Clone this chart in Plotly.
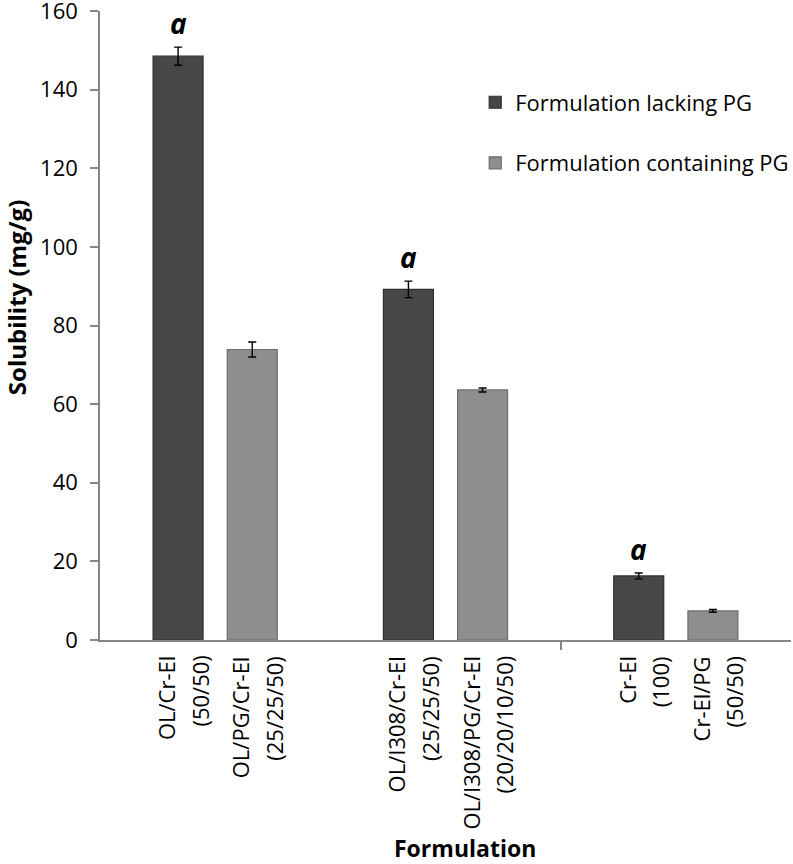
import plotly.graph_objects as go

# ---- data ----
groups = [0, 1, 2]
labels_lacking = ["OL/Cr-El\n(50/50)", "OL/I308/Cr-El\n(25/25/50)", "Cr-El\n(100)"]
labels_containing = ["OL/PG/Cr-El\n(25/25/50)", "OL/I308/PG/Cr-El\n(20/20/10/50)", "Cr-El/PG\n(50/50)"]
vals_lacking = [148.5, 89.2, 16.3]
err_lacking = [2.3, 2.1, 0.75]
vals_containing = [73.9, 63.6, 7.4]
err_containing = [1.9, 0.5, 0.35]
sig_lacking = ["a", "a", "a"]
y_ticks = [0, 20, 40, 60, 80, 100, 120, 140, 160]

# ---- style ----
FONT = "Open Sans"
OFF = 0.161
BW = 0.217
DARK = "#474747"
DARK_LINE = "#2f2f2f"
LIGHT = "#8e8e8e"
LIGHT_LINE = "#6c6c6c"
AXIS = "#868686"
LINE_SHIFTS = [-12, 21]

x_l = [g - OFF for g in groups]
x_c = [g + OFF for g in groups]

fig = go.Figure()
fig.add_trace(go.Bar(
    x=x_l, y=vals_lacking, width=BW, name="Formulation lacking PG",
    legendgroup="l",
    marker=dict(color=DARK, line=dict(color=DARK_LINE, width=1.2)),
    error_y=dict(type="data", array=err_lacking, color="black", thickness=1.4, width=4),
))
fig.add_trace(go.Bar(
    x=x_c, y=vals_containing, width=BW, name="Formulation containing PG",
    legendgroup="c",
    marker=dict(color=LIGHT, line=dict(color=LIGHT_LINE, width=1.2)),
    error_y=dict(type="data", array=err_containing, color="black", thickness=1.4, width=4),
))

annotations = []
# significance letters
for x, v, e, s in zip(x_l, vals_lacking, err_lacking, sig_lacking):
    annotations.append(dict(x=x, y=v + e, xref="x", yref="y", text=f"<b><i>{s}</i></b>",
                            showarrow=False, yanchor="middle", xanchor="center", yshift=24,
                            font=dict(family=FONT, size=28, color="black")))
# category labels under each bar (one rotated line per annotation)
for xs, labs in ((x_l, labels_lacking), (x_c, labels_containing)):
    for x, lab in zip(xs, labs):
        for line, sh in zip(lab.split("\n"), LINE_SHIFTS):
            annotations.append(dict(x=x, y=0, xref="x", yref="y", text=line, textangle=-90,
                                    showarrow=False, xanchor="center", yanchor="top",
                                    xshift=sh, yshift=-14,
                                    font=dict(family=FONT, size=22, color="black")))
# axis titles
annotations.append(dict(x=(465 - 100) / 691, y=-0.331, xref="paper", yref="paper",
                        text="<b>Formulation</b>", showarrow=False, xanchor="center", yanchor="middle",
                        font=dict(family=FONT, size=23, color="black")))
annotations.append(dict(x=(16 - 100) / 691, y=0.545, xref="paper", yref="paper",
                        text="<b>Solubility (mg/g)</b>", textangle=-90, showarrow=False,
                        xanchor="center", yanchor="middle",
                        font=dict(family=FONT, size=24, color="black")))

fig.update_layout(
    width=793, height=864,
    margin=dict(l=100, r=2, t=11, b=224, autoexpand=False),
    plot_bgcolor="white", paper_bgcolor="white",
    font=dict(family=FONT, size=21, color="black"),
    showlegend=True,
    legend=dict(x=0.543, y=0.888, xanchor="left", yanchor="top",
                font=dict(family=FONT, size=22, color="black"),
                tracegroupgap=29, bgcolor="rgba(0,0,0,0)"),
    annotations=annotations,
)
fig.update_xaxes(range=[-0.5, 2.5], showgrid=False, zeroline=False, automargin=False,
                 showline=True, linecolor=AXIS, linewidth=1.5,
                 tickvals=[1.5], ticks="outside", ticklen=8, tickcolor=AXIS, tickwidth=1.5,
                 showticklabels=False)
fig.update_yaxes(range=[0, 160], tickvals=y_ticks, showgrid=False, zeroline=False, automargin=False,
                 showline=True, linecolor=AXIS, linewidth=1.5,
                 ticks="outside", ticklen=8, tickcolor=AXIS, tickwidth=1.5,
                 ticklabelstandoff=8, ticklabeloverflow="allow",
                 tickfont=dict(family=FONT, size=22, color="black"))

fig.write_html("out.html", config={"displayModeBar": False},
               post_script="document.body.style.margin='0';")
